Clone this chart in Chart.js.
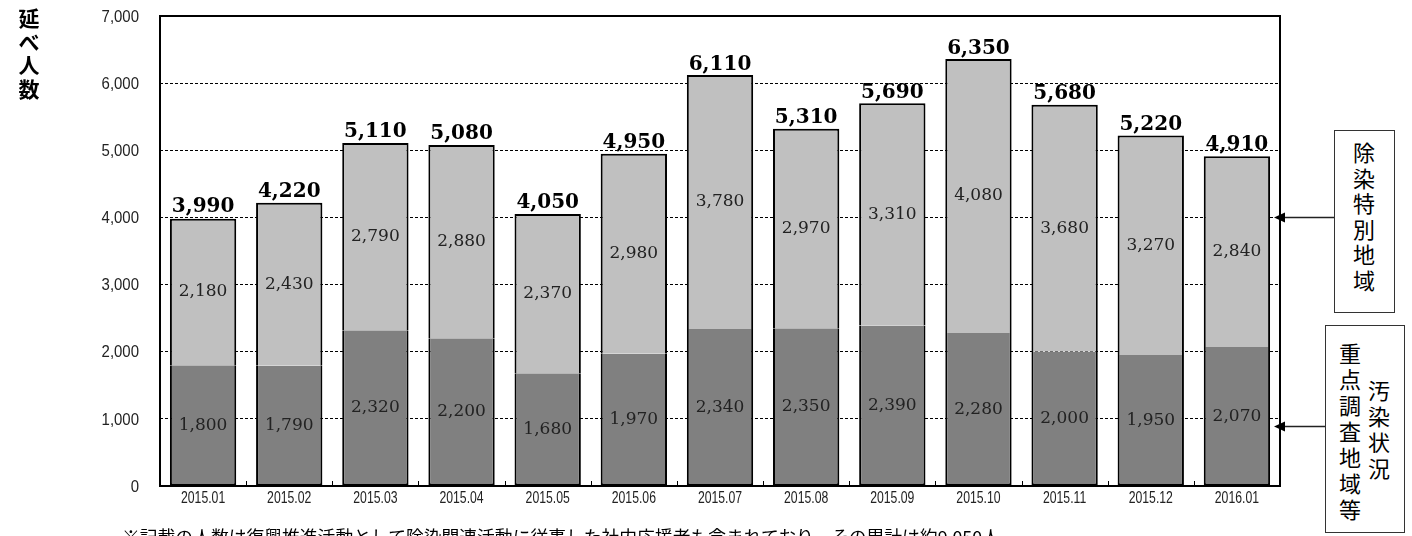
<!DOCTYPE html>
<html lang="ja">
<head>
<meta charset="utf-8">
<script src="https://cdn.jsdelivr.net/npm/chart.js@4"></script>
<style>
  body { margin: 0; background: #fff; }
  #wrap { position: relative; width: 1412px; height: 536px; overflow: hidden; }
  #chart { position: absolute; left: 0; top: 0; }
  .ytitle { position: absolute; left: 17px; top: 6px; width: 24px; font: bold 21px "Noto Sans CJK JP", sans-serif; line-height: 23.5px; text-align: center; color: #000; }
  .box { position: absolute; border: 1.5px solid #333; background: #fff; box-sizing: border-box; font: 22px "Noto Sans CJK JP", sans-serif; color: #000; }
  .vcol { position: absolute; width: 24px; text-align: center; line-height: 26px; }
  .note { position: absolute; left: 122px; top: 523px; font: 17.8px "Noto Sans CJK JP", sans-serif; color: #000; white-space: nowrap; }
</style>
</head>
<body>
<div id="wrap">
  <canvas id="chart" width="1412" height="536"></canvas>
  <div class="ytitle">延<br>べ<br>人<br>数</div>
  <div class="box" style="left:1334px; top:130px; width:61px; height:183px;">
    <div class="vcol" style="left:17px; top:8px; line-height:25.5px;">除<br>染<br>特<br>別<br>地<br>域</div>
  </div>
  <div class="box" style="left:1325px; top:325px; width:80px; height:208px;">
    <div class="vcol" style="left:12px; top:13px;">重<br>点<br>調<br>査<br>地<br>域<br>等</div>
    <div class="vcol" style="left:41px; top:50px;">汚<br>染<br>状<br>況</div>
  </div>
  <div class="note">※記載の人数は復興推進活動として除染関連活動に従事した社内応援者も含まれており、その累計は約9,050人</div>
</div>
<script>
const months = ['2015.01', '2015.02', '2015.03', '2015.04', '2015.05', '2015.06', '2015.07',
  '2015.08', '2015.09', '2015.10', '2015.11', '2015.12', '2016.01'];
// 汚染状況重点調査地域等 (lower, dark)
const priorityArea = [1800, 1790, 2320, 2200, 1680, 1970, 2340, 2350, 2390, 2280, 2000, 1950, 2070];
// 除染特別地域 (upper, light)
const specialArea = [2180, 2430, 2790, 2880, 2370, 2980, 3780, 2970, 3310, 4080, 3680, 3270, 2840];
// totals as printed above each bar
const totals = [3990, 4220, 5110, 5080, 4050, 4950, 6110, 5310, 5690, 6350, 5680, 5220, 4910];
const yTicks = [0, 1000, 2000, 3000, 4000, 5000, 6000, 7000];
// where the two side boxes point to
const arrowTargets = [4000, 900];

const fmt = n => n.toLocaleString('en-US');
const TICK_FONT = '"Liberation Sans", Arial, sans-serif';

// tick text in the original is a very narrow gothic, so squash it a bit
function squashed(ctx, text, x, y, sx, align) {
  ctx.save();
  ctx.translate(x, y);
  ctx.scale(sx, 1);
  ctx.textAlign = align;
  ctx.fillText(text, 0, 0);
  ctx.restore();
}

const labelsPlugin = {
  id: 'barLabels',
  afterDatasetsDraw(chart) {
    const ctx = chart.ctx;
    const a = chart.chartArea;
    const xs = chart.scales.x, ys = chart.scales.y;
    ctx.save();
    ctx.textAlign = 'center';
    ctx.textBaseline = 'middle';
    ctx.fillStyle = '#222';
    ctx.font = '17px "DejaVu Serif", serif';
    chart.data.datasets.forEach((ds, di) => {
      chart.getDatasetMeta(di).data.forEach((bar, i) => {
        ctx.fillText(fmt(ds.data[i]), bar.x, (bar.y + bar.base) / 2);
      });
    });
    ctx.fillStyle = '#000';
    ctx.font = 'bold 20px "DejaVu Serif", serif';
    ctx.textBaseline = 'alphabetic';
    chart.getDatasetMeta(1).data.forEach((bar, i) => {
      ctx.fillText(fmt(totals[i]), bar.x, ys.getPixelForValue(totals[i]) - 6);
    });

    // tick labels
    ctx.fillStyle = '#222';
    ctx.textBaseline = 'middle';
    ctx.font = '17px ' + TICK_FONT;
    ys.ticks.forEach(t => {
      squashed(ctx, fmt(t.value), a.left - 21, ys.getPixelForValue(t.value) + 1, 0.88, 'right');
    });
    ctx.font = '17px ' + TICK_FONT;
    months.forEach((m, i) => {
      squashed(ctx, m, xs.getPixelForTick(i), a.bottom + 12, 0.72, 'center');
    });

    // frame of plot area
    ctx.strokeStyle = '#000';
    ctx.lineWidth = 2;
    ctx.strokeRect(a.left, a.top, a.right - a.left, a.bottom - a.top);

    // small inner ticks between categories on the bottom axis
    ctx.lineWidth = 1;
    const slot = (a.right - a.left) / months.length;
    for (let i = 1; i < months.length; i++) {
      const x = Math.round(a.left + slot * i) + 0.5;
      ctx.beginPath();
      ctx.moveTo(x, a.bottom);
      ctx.lineTo(x, a.bottom - 5);
      ctx.stroke();
    }

    // arrows from the side boxes
    ctx.strokeStyle = '#222';
    ctx.fillStyle = '#000';
    [[1334, arrowTargets[0]], [1325, arrowTargets[1]]].forEach(([x0, v]) => {
      const y = Math.round(ys.getPixelForValue(v)) + 0.5;
      const tip = a.right - 6;
      ctx.lineWidth = 1.5;
      ctx.beginPath();
      ctx.moveTo(x0, y);
      ctx.lineTo(tip + 8, y);
      ctx.stroke();
      ctx.beginPath();
      ctx.moveTo(tip, y);
      ctx.lineTo(tip + 11, y - 5);
      ctx.lineTo(tip + 11, y + 5);
      ctx.closePath();
      ctx.fill();
    });
    ctx.restore();
  }
};

new Chart(document.getElementById('chart'), {
  type: 'bar',
  data: {
    labels: months,
    datasets: [
      {
        label: '汚染状況重点調査地域等',
        data: priorityArea,
        backgroundColor: '#808080',
        borderColor: '#000',
        borderWidth: 2,
        borderSkipped: 'top'
      },
      {
        label: '除染特別地域',
        data: specialArea,
        backgroundColor: '#c0c0c0',
        borderColor: '#000',
        borderWidth: 2,
        borderSkipped: 'bottom'
      }
    ]
  },
  options: {
    responsive: false,
    animation: false,
    devicePixelRatio: 1,
    layout: { padding: { left: 40, right: 132, top: 16, bottom: 0 } },
    datasets: { bar: { categoryPercentage: 1, barPercentage: 0.77 } },
    plugins: { legend: { display: false }, tooltip: { enabled: false } },
    scales: {
      x: {
        stacked: true,
        grid: { display: false, drawTicks: false },
        border: { display: false },
        ticks: { display: false },
        afterFit: s => { s.height = 50; }
      },
      y: {
        stacked: true,
        min: 0,
        max: 7000,
        afterBuildTicks: s => { s.ticks = yTicks.map(v => ({ value: v })); },
        grid: { color: '#000', lineWidth: 1, drawTicks: false },
        border: { display: false, dash: [3, 2] },
        ticks: { display: false },
        afterFit: s => { s.width = 120; }
      }
    }
  },
  plugins: [labelsPlugin]
});
</script>
</body>
</html>
